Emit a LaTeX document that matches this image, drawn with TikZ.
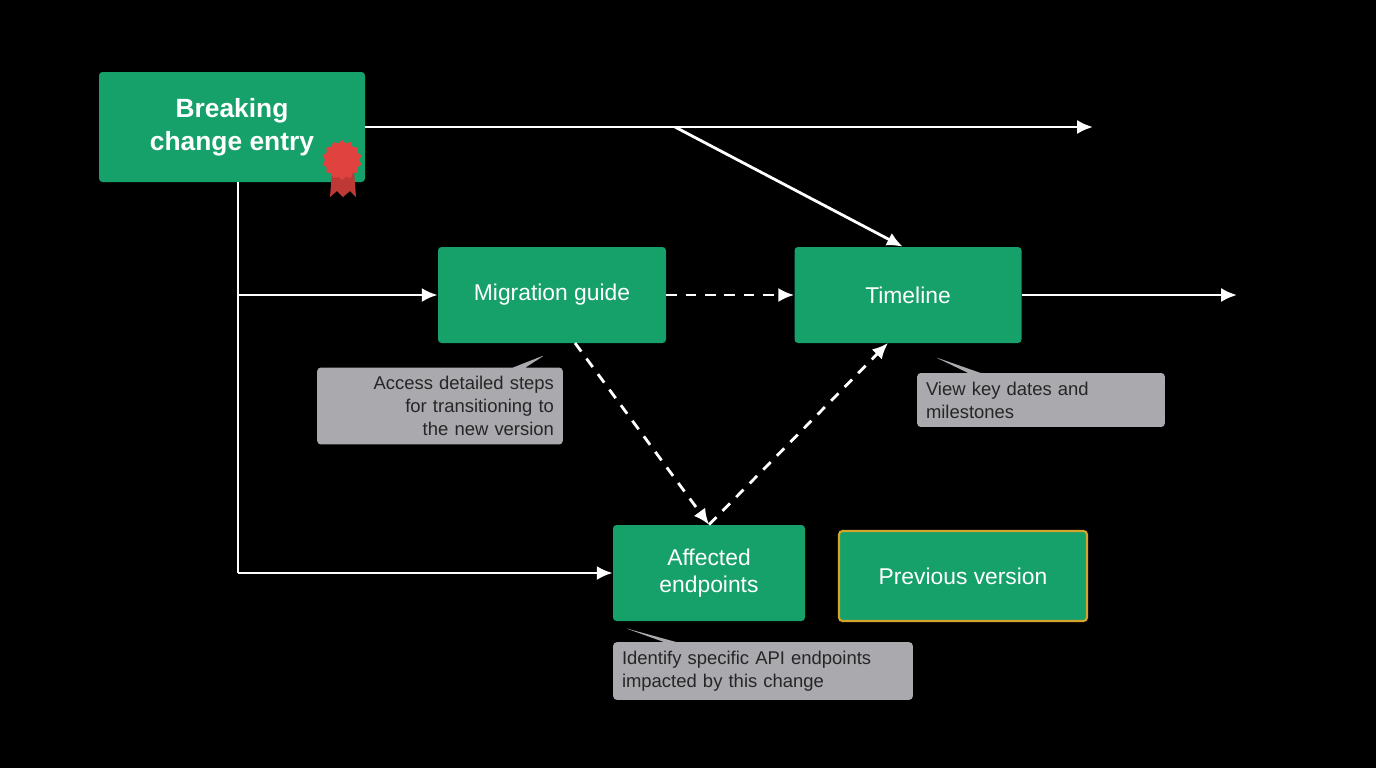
\documentclass[tikz,border=0pt]{standalone}
\usepackage{fontspec}
\setmainfont{Liberation Sans}
\usetikzlibrary{positioning,shapes.geometric,shapes.callouts,arrows.meta}
\definecolor{boxgreen}{HTML}{16A06A}
\definecolor{notegray}{HTML}{A9A9AE}
\definecolor{gold}{HTML}{D4A52A}
\definecolor{badgered}{HTML}{E0433F}
\begin{document}
\begin{tikzpicture}[
    x=0.02cm, y=-0.02cm,
    stage/.style={rectangle,rounded corners=2pt,fill=boxgreen,text=white,align=center,font=\fontsize{13}{15}\selectfont},
    note/.style={rectangle callout,rounded corners=2pt,fill=notegray,text=black!85,font=\fontsize{10.5}{13}\selectfont,inner sep=5pt},
    flow/.style={draw=white,line width=1.6pt,-{Latex[length=9pt,width=8pt]}},
    flowdash/.style={flow,dash pattern=on 6pt off 5pt}
    ]
    \fill[black] (0,0) rectangle (1376,768);

    % boxes:
    \node (entry) [stage,minimum width=266*0.02cm,minimum height=110*0.02cm,font=\fontsize{15}{19}\selectfont\bfseries] at (232,127) {Breaking\\change entry};
    \node (guide) [stage,minimum width=228*0.02cm,minimum height=96*0.02cm] at (552,295) {Migration guide};
    \node (timeline) [stage,minimum width=227*0.02cm,minimum height=96*0.02cm] at (908,295) {Timeline};
    \node (affected) [stage,minimum width=192*0.02cm,minimum height=96*0.02cm] at (709,573) {Affected\\endpoints};
    \node (previous) [stage,draw=gold,line width=1.2pt,minimum width=248*0.02cm,minimum height=90*0.02cm] at (963,576) {Previous version};

    % badge:
    \fill[badgered!85!black] (332,172) -- (330,197) -- (337,191) -- (343,197) -- (343,172) -- cycle;
    \fill[badgered!85!black] (343,172) -- (343,197) -- (350,191) -- (356,197) -- (354,172) -- cycle;
    \node (seal) [star,star points=14,star point ratio=1.18,fill=badgered,minimum size=0.8cm,inner sep=0pt] at (342,160) {};

    % notes:
    \node (guidenote) [note,align=right,text width=228*0.02cm,callout absolute pointer={(545,355)}] at (440,406) {Access detailed steps\\for transitioning to\\the new version};
    \node (timenote) [note,align=left,text width=230*0.02cm,callout absolute pointer={(935,357)}] at (1041,400) {View key dates and\\milestones};
    \node (affnote) [note,align=left,text width=282*0.02cm,callout absolute pointer={(625,628)}] at (763,671) {Identify specific API endpoints\\impacted by this change};

    % connections:
    \coordinate (out1) at (1093,127);
    \coordinate (fork) at (675,127);
    \coordinate (out2) at (1237,295);
    \coordinate (down) at (238,182);
    \coordinate (branch) at (238,295);
    \coordinate (corner) at (238,573);
    \coordinate (guidefoot) at (575,343);
    \coordinate (timefoot) at (888,343);

    \draw [flow] (entry.east |- out1) -- (out1);
    \draw [flow] (fork) -- ([xshift=-3pt]timeline.north);
    \draw [draw=white,line width=1.6pt] (down) -- (corner);
    \draw [flow] (branch) -- (guide.west);
    \draw [flow] (corner) -- (affected.west);
    \draw [flowdash] (guide.east) -- (timeline.west);
    \draw [flow] (timeline.east) -- (out2);
    \draw [flowdash] (guidefoot) -- (affected.north);
    \draw [flowdash] (affected.north) -- (timefoot);
\end{tikzpicture}
\end{document}
